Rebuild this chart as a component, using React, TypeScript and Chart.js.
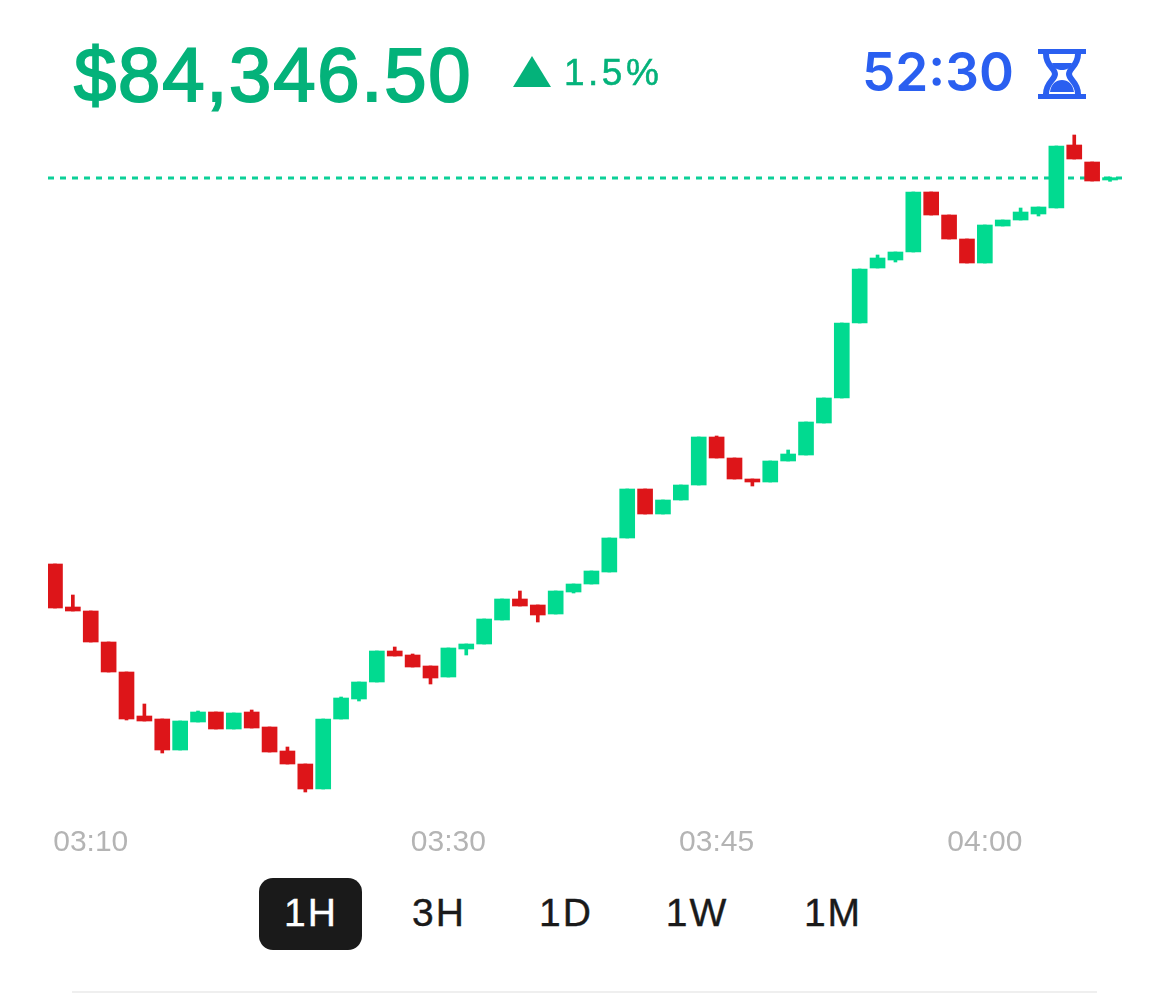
import React, { useEffect, useRef } from 'react';
import { Chart, registerables } from 'chart.js';

Chart.register(...registerables);

const opens = [
  83188, 83059, 83047, 82954, 82864, 82732, 82723, 82630, 82714, 82744,
  82693, 82744, 82699, 82627, 82588, 82513, 82723, 82783, 82834, 82927,
  82915, 82882, 82849, 82933, 82948, 83020, 83083, 83065, 83038, 83104,
  83128, 83164, 83266, 83413, 83338, 83380, 83425, 83569, 83506, 83443,
  83434, 83497, 83515, 83611, 83686, 83911, 84076, 84100, 84124, 84304,
  84235, 84163, 84091, 84202, 84220, 84238, 84256, 84445, 84394, 84340,
];
const closes = [
  83056, 83047, 82954, 82864, 82723, 82717, 82630, 82717, 82744, 82693,
  82741, 82696, 82624, 82588, 82513, 82723, 82786, 82834, 82927, 82912,
  82879, 82846, 82936, 82948, 83023, 83083, 83062, 83035, 83107, 83128,
  83167, 83266, 83413, 83338, 83380, 83425, 83569, 83506, 83443, 83434,
  83497, 83518, 83614, 83686, 83911, 84073, 84106, 84124, 84304, 84235,
  84163, 84091, 84205, 84220, 84244, 84259, 84442, 84403, 84337, 84347,
];
const highs = [
  83188, 83095, 83047, 82954, 82864, 82768, 82723, 82717, 82747, 82744,
  82741, 82750, 82699, 82639, 82588, 82723, 82789, 82834, 82927, 82939,
  82918, 82882, 82936, 82948, 83023, 83083, 83107, 83065, 83107, 83128,
  83167, 83266, 83413, 83413, 83380, 83425, 83569, 83572, 83506, 83443,
  83497, 83530, 83614, 83686, 83911, 84073, 84115, 84124, 84304, 84304,
  84235, 84163, 84205, 84220, 84256, 84259, 84442, 84475, 84394, 84349,
];
const lows = [
  83056, 83047, 82954, 82864, 82720, 82717, 82621, 82630, 82714, 82693,
  82693, 82696, 82624, 82588, 82504, 82513, 82723, 82777, 82834, 82912,
  82879, 82828, 82849, 82915, 82948, 83020, 83062, 83014, 83038, 83101,
  83128, 83164, 83266, 83338, 83338, 83380, 83425, 83506, 83443, 83422,
  83434, 83497, 83515, 83611, 83686, 83911, 84076, 84094, 84124, 84235,
  84163, 84091, 84091, 84202, 84220, 84232, 84256, 84403, 84337, 84336,
];

const lastPrice = 84346;
const tickPositions = [2, 22, 37, 52];
const tickLabels = ['03:10', '03:30', '03:45', '04:00'];
const ranges = ['1H', '3H', '1D', '1W', '1M'];
const rangeCenters = [311, 439, 566, 697, 833];

const GREEN = '#01da90';
const RED = '#dd1519';
const candleColors = opens.map((o, i) => (closes[i] >= o ? GREEN : RED));

const abs = (left: number, top: number): React.CSSProperties => ({
  position: 'absolute',
  left,
  top,
  whiteSpace: 'nowrap',
  lineHeight: 1,
});

export default function App() {
  const chartRef = useRef<HTMLCanvasElement>(null);

  useEffect(() => {
    if (!chartRef.current) return;
    const chart = new Chart(chartRef.current, {
      type: 'bar',
      data: {
        datasets: [
          {
            type: 'line',
            data: [
              { x: -0.39, y: lastPrice },
              { x: 59.67, y: lastPrice },
            ],
            borderColor: '#0cd098',
            borderWidth: 3,
            borderDash: [6, 6],
            pointRadius: 0,
            order: 3,
          },
          {
            data: opens.map((_, i) => ({ x: i, y: [lows[i], highs[i]] })),
            backgroundColor: candleColors,
            barThickness: 3,
            grouped: false,
            order: 2,
          },
          {
            data: opens.map((o, i) => ({ x: i, y: [o, closes[i]] })),
            backgroundColor: candleColors,
            barThickness: 15,
            grouped: false,
            order: 1,
          },
        ] as any,
      },
      options: {
        responsive: false,
        animation: false,
        layout: { padding: { left: 48, right: 48, top: 120 } },
        plugins: { legend: { display: false }, tooltip: { enabled: false } },
        scales: {
          x: {
            type: 'linear',
            offset: false,
            min: -0.39,
            max: 59.67,
            grid: { display: false },
            border: { display: false },
            afterBuildTicks: (axis: any) => {
              axis.ticks = tickPositions.map((value) => ({ value }));
            },
            afterFit: (axis: any) => {
              axis.height = 60;
            },
            ticks: {
              autoSkip: false,
              maxRotation: 0,
              padding: 7,
              color: '#b4b4b4',
              font: { family: '"Liberation Sans"', size: 30 },
              callback: (v: any) => tickLabels[tickPositions.indexOf(v)],
            },
          },
          y: { display: false, min: 82450, max: 84520 },
        },
      } as any,
    });
    return () => chart.destroy();
  }, []);

  return (
    <div style={{ position: 'absolute', left: 0, top: 0, width: 1170, height: 993, background: '#fff', overflow: 'hidden' }}>
      <canvas ref={chartRef} width={1170} height={870} style={{ position: 'absolute', left: 0, top: 0 }} />

      <div style={{ ...abs(74, 37), fontFamily: '"Liberation Sans"', fontSize: 76, letterSpacing: 1.8, color: '#04b27a', WebkitTextStroke: '2px #04b27a' }}>
        $84,346.50
      </div>
      <svg width={38} height={31} style={{ position: 'absolute', left: 513, top: 56 }}>
        <path d="M19 0 L38 31 L0 31 Z" fill="#04b27a" />
      </svg>
      <div style={{ ...abs(564, 54), fontFamily: '"Liberation Sans"', fontSize: 37, letterSpacing: 3.5, color: '#04b27a', WebkitTextStroke: '0.5px #04b27a' }}>
        1.5%
      </div>

      <div style={{ ...abs(862, 46), fontFamily: 'Inter', fontWeight: 600, fontSize: 53, color: '#2a5ff0' }}>52:30</div>
      <svg width={48} height={50} viewBox="0 0 48 50" style={{ position: 'absolute', left: 1038, top: 49 }}>
        <path d="M0 0H48V5H0ZM0 45H48V50H0Z" fill="#2a5ff0" />
        <path d="M8 5 C8 17 17 19 17 25 C17 31 8 33 8 45 M40 5 C40 17 31 19 31 25 C31 31 40 33 40 45" stroke="#2a5ff0" strokeWidth="6" fill="none" />
        <path d="M14 14H34C32 20 28 21 24 21C20 21 16 20 14 14ZM12 43C13 35 18 31 24 31C30 31 35 35 36 43Z" fill="#2a5ff0" />
      </svg>

      <div style={{ position: 'absolute', left: 259, top: 878, width: 103, height: 72, borderRadius: 14, background: '#1a1a1a' }} />
      {ranges.map((r, i) => (
        <div
          key={r}
          style={{
            ...abs(rangeCenters[i] - 60, 893),
            width: 120,
            textAlign: 'center',
            fontFamily: '"Liberation Sans"',
            fontSize: 39,
            letterSpacing: 2,
            color: i === 0 ? '#fff' : '#1a1a1a',
            WebkitTextStroke: `0.4px ${i === 0 ? '#fff' : '#1a1a1a'}`,
          }}
        >
          {r}
        </div>
      ))}
      <div style={{ position: 'absolute', left: 72, top: 991, width: 1025, height: 2, background: '#efefef' }} />
    </div>
  );
}
